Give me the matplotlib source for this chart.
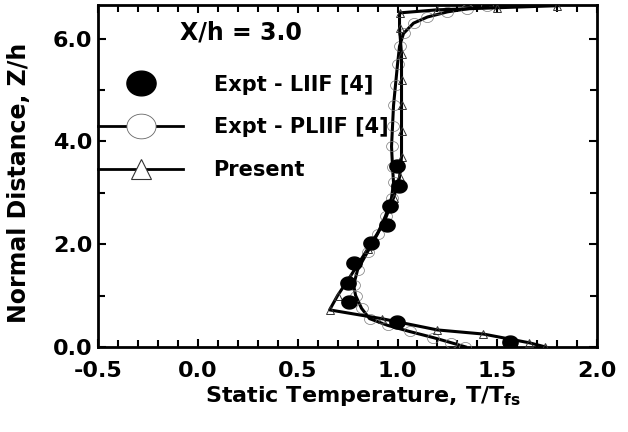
import matplotlib
matplotlib.use("Agg")
import matplotlib.pyplot as plt
from matplotlib.lines import Line2D
from matplotlib.path import Path
import matplotlib.ticker as mticker
import numpy as np

plt.rcParams['font.family'] = ['DejaVu Sans']
plt.rcParams['font.weight'] = 'bold'
plt.rcParams['mathtext.default'] = 'bf'

# Expt - LIIF [4] (filled circles)
liif_T = [0.998, 1.007, 0.96, 0.945, 0.865, 0.78, 0.75, 0.757, 0.995, 1.565]
liif_Z = [3.52, 3.13, 2.75, 2.38, 2.02, 1.63, 1.24, 0.88, 0.49, 0.10]

# Expt - PLIIF [4] (open circles, line)
pliif_T = [1.34, 1.27, 1.18, 1.06, 0.95, 0.86, 0.82, 0.79, 0.78, 0.80, 0.85, 0.90,
           0.94, 0.97, 0.98, 0.975, 0.97, 0.975, 0.98, 0.99, 1.0, 1.01, 1.03,
           1.08, 1.15, 1.25, 1.35, 1.45]
pliif_Z = [0.0, 0.08, 0.18, 0.30, 0.42, 0.55, 0.75, 1.0, 1.2, 1.5, 1.85, 2.2,
           2.55, 2.9, 3.2, 3.5, 3.9, 4.3, 4.7, 5.1, 5.5, 5.85, 6.1,
           6.3, 6.42, 6.52, 6.58, 6.64]

# Present (triangles, line)
pres_T = [1.74, 1.66, 1.43, 1.20, 0.92, 0.66, 0.70, 0.76, 0.85, 0.93, 0.98, 1.01,
          1.02, 1.02, 1.02, 1.02, 1.02, 1.01, 1.01, 1.2, 1.5, 1.8]
pres_Z = [0.0, 0.08, 0.25, 0.33, 0.55, 0.72, 1.0, 1.35, 1.9, 2.4, 2.9, 3.3,
          3.7, 4.2, 4.7, 5.2, 5.7, 6.2, 6.5, 6.56, 6.6, 6.64]

xticks = [-0.5, 0.0, 0.5, 1.0, 1.5, 2.0]
yticks = [0.0, 2.0, 4.0, 6.0]

# slightly wide ellipse marker (reference is horizontally stretched)
_t = np.linspace(0, 2 * np.pi, 60)
ellipse = Path(np.column_stack([1.18 * np.cos(_t), np.sin(_t)]), closed=True)

fig = plt.figure(figsize=(6.28, 4.32), dpi=100)
ax = fig.add_axes([0.156, 0.197, 0.795, 0.791])

ax.plot(pliif_T, pliif_Z, color='black', lw=2.2, marker=ellipse, ms=8.5,
        mfc='none', mec='#777777', mew=0.5, zorder=3)
ax.plot(pres_T, pres_Z, color='black', lw=2.2, marker='^', ms=6,
        mfc='none', mec='#333333', mew=0.7, zorder=3)
ax.plot(liif_T, liif_Z, ls='none', marker=ellipse, ms=11, color='black', zorder=4)

ax.set_xlim(-0.5, 2.0)
ax.set_ylim(0.0, 6.65)
ax.set_xticks(xticks)
ax.set_xticks(np.arange(-0.5, 2.01, 0.1), minor=True)
ax.set_yticks(yticks)
ax.set_yticks([1.0, 3.0, 5.0], minor=True)
ax.xaxis.set_major_formatter(mticker.FormatStrFormatter('%.1f'))
ax.yaxis.set_major_formatter(mticker.FormatStrFormatter('%.1f'))
ax.tick_params(which='both', direction='in', top=True, right=True, width=1.5,
               labelsize=16)
ax.tick_params(which='major', length=6)
ax.tick_params(which='minor', length=5)
ax.tick_params(axis='x', which='major', pad=10)
ax.tick_params(axis='y', which='major', pad=4)
for s in ax.spines.values():
    s.set_linewidth(2)

ax.set_xlabel('Static Temperature, T/T$_{\\mathbf{fs}}$', fontsize=16, fontweight='bold')
ax.xaxis.set_label_coords(0.53, -0.11)
ax.set_ylabel('Normal Distance, Z/h', fontsize=17, fontweight='bold')
ax.yaxis.set_label_coords(-0.135, 0.48)

handles = [
    Line2D([], [], ls='none', marker=ellipse, ms=21, color='black'),
    Line2D([], [], color='black', lw=2, marker=ellipse, ms=21, mfc='white', mec='#666666', mew=0.6),
    Line2D([], [], color='black', lw=2, marker='^', ms=15, mfc='white', mec='#333333', mew=0.8),
]
labels = ['Expt - LIIF [4]', 'Expt - PLIIF [4]', 'Present']
leg = ax.legend(handles, labels, loc='upper left', bbox_to_anchor=(0.0, 0.797),
                frameon=False, fontsize=15, handlelength=4.1, handletextpad=1.45,
                labelspacing=1.1, borderaxespad=0.0, borderpad=0.0)
ax.text(0.164, 0.921, 'X/h = 3.0', transform=ax.transAxes, fontsize=17,
        fontweight='bold', va='center', ha='left')

fig.savefig('out.png', dpi=100)
